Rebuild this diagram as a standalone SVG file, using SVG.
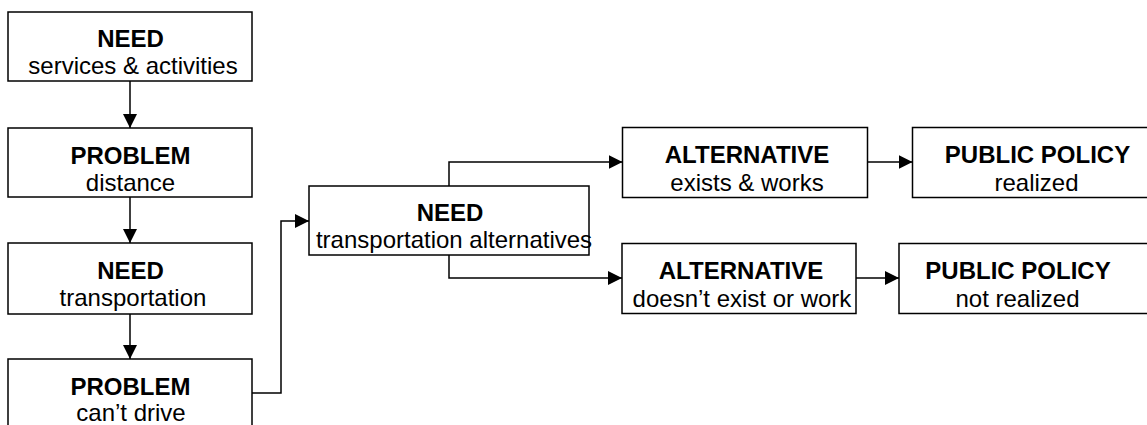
<svg xmlns="http://www.w3.org/2000/svg" width="1147" height="425" viewBox="0 0 1147 425">
<style>
.box{fill:#fff;stroke:#000;stroke-width:1.5}
.t{font-family:"Liberation Sans",Arial,sans-serif;font-size:24px;fill:#000;text-anchor:middle}
.b{font-weight:bold}
.c{fill:none;stroke:#000;stroke-width:1.5}
</style>
<defs>
<marker id="ah" markerUnits="userSpaceOnUse" markerWidth="14" markerHeight="14" refX="14" refY="7" orient="auto">
<path d="M0,0 L14,7 L0,14 z" fill="#000"/>
</marker>
</defs>
<rect width="1147" height="425" fill="#fff"/>
<g id="connectors">
<path class="c" d="M130,81 V128" marker-end="url(#ah)"/>
<path class="c" d="M130,197 V243" marker-end="url(#ah)"/>
<path class="c" d="M130,314 V359" marker-end="url(#ah)"/>
<path class="c" d="M252,393 H281 V221 H309" marker-end="url(#ah)"/>
<path class="c" d="M449,186 V162 H622.5" marker-end="url(#ah)"/>
<path class="c" d="M449,255 V278 H622" marker-end="url(#ah)"/>
<path class="c" d="M868,162 H912.5" marker-end="url(#ah)"/>
<path class="c" d="M856,278 H899" marker-end="url(#ah)"/>
</g>
<g id="need-services">
<rect class="box" x="8" y="12" width="244" height="69"/>
<text class="t b" x="130.5" y="47">NEED</text>
<text class="t" x="133" y="74">services &amp; activities</text>
</g>
<g id="problem-distance">
<rect class="box" x="8" y="128" width="244" height="69"/>
<text class="t b" x="130.5" y="164">PROBLEM</text>
<text class="t" x="130.5" y="191">distance</text>
</g>
<g id="need-transportation">
<rect class="box" x="8" y="243" width="244" height="71"/>
<text class="t b" x="130.5" y="279">NEED</text>
<text class="t" x="133" y="306">transportation</text>
</g>
<g id="problem-cant-drive">
<rect class="box" x="8" y="359" width="244" height="72"/>
<text class="t b" x="130.5" y="395">PROBLEM</text>
<text class="t" x="131" y="421">can’t drive</text>
</g>
<g id="need-alternatives">
<rect class="box" x="309" y="186" width="280" height="69"/>
<text class="t b" x="450" y="221">NEED</text>
<text class="t" x="454" y="248">transportation alternatives</text>
</g>
<g id="alt-exists">
<rect class="box" x="622.5" y="127.5" width="245" height="70"/>
<text class="t b" x="747" y="163">ALTERNATIVE</text>
<text class="t" x="747" y="191">exists &amp; works</text>
</g>
<g id="alt-not-exist">
<rect class="box" x="622" y="243.5" width="234" height="70"/>
<text class="t b" x="741" y="279">ALTERNATIVE</text>
<text class="t" x="742" y="307">doesn’t exist or work</text>
</g>
<g id="policy-realized">
<rect class="box" x="912.5" y="127.5" width="250" height="70"/>
<text class="t b" x="1037.5" y="163">PUBLIC POLICY</text>
<text class="t" x="1036.5" y="191">realized</text>
</g>
<g id="policy-not-realized">
<rect class="box" x="899" y="243.5" width="260" height="70"/>
<text class="t b" x="1018" y="279">PUBLIC POLICY</text>
<text class="t" x="1017.5" y="307">not realized</text>
</g>
</svg>
